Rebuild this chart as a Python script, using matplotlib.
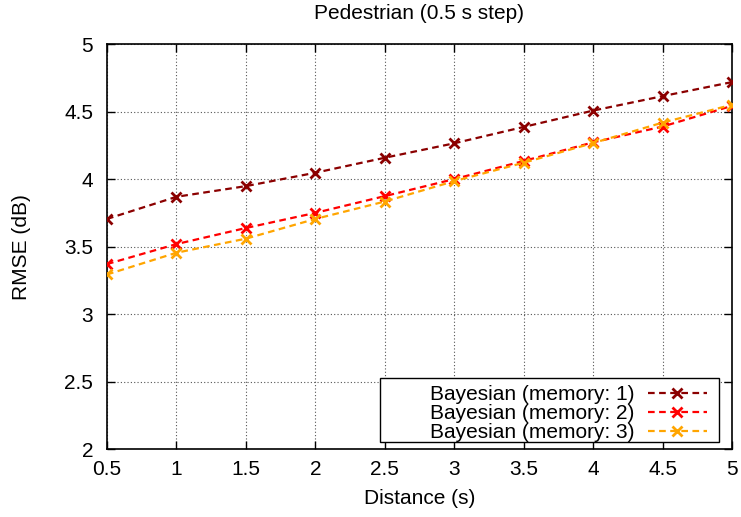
import matplotlib
matplotlib.use("Agg")
import matplotlib.pyplot as plt
from matplotlib.patches import Rectangle

plt.rcParams['font.family'] = ['Liberation Sans', 'DejaVu Sans']

distance = [0.5, 1.0, 1.5, 2.0, 2.5, 3.0, 3.5, 4.0, 4.5, 5.0]
mem1 = [3.705, 3.869, 3.948, 4.047, 4.158, 4.265, 4.386, 4.507, 4.614, 4.718]
mem2 = [3.371, 3.519, 3.638, 3.750, 3.874, 4.000, 4.134, 4.272, 4.389, 4.542]
mem3 = [3.294, 3.455, 3.559, 3.705, 3.834, 3.985, 4.121, 4.267, 4.418, 4.550]
labels = ["Bayesian (memory: 1)", "Bayesian (memory: 2)", "Bayesian (memory: 3)"]
colors = ["#8b0000", "#ff0000", "#ffa500"]

xticks = [0.5, 1, 1.5, 2, 2.5, 3, 3.5, 4, 4.5, 5]
xticklabels = ["0.5", "1", "1.5", "2", "2.5", "3", "3.5", "4", "4.5", "5"]
yticks = [2, 2.5, 3, 3.5, 4, 4.5, 5]
yticklabels = ["2", "2.5", "3", "3.5", "4", "4.5", "5"]

fs = 15
fig = plt.figure(figsize=(7.41, 5.17), dpi=100)
ax = fig.add_axes([107/741, 1-449.3/517, (732-107)/741, (449.3-44)/517])

for ys, lab, c in zip([mem1, mem2, mem3], labels, colors):
    ax.plot(distance, ys, linestyle=(0, (3, 2)), color=c, linewidth=1.6,
            marker='x', markersize=7, markeredgewidth=2, label=lab, zorder=3)

ax.set_xlim(0.5, 5)
ax.set_ylim(2, 5)
ax.set_xticks(xticks)
ax.set_xticklabels(xticklabels, fontsize=fs)
ax.set_yticks(yticks)
ax.set_yticklabels(yticklabels, fontsize=fs)
ax.tick_params(direction='in', top=True, right=True, length=6, width=1)
ax.tick_params(axis='x', pad=8)
ax.tick_params(axis='y', pad=10)
ax.grid(True, linestyle=(0, (1, 2)), color='#555555', linewidth=0.8)
for s in ax.spines.values():
    s.set_linewidth(1.2)

fig.text((107+732)/2/741, 1-19/517, "Pedestrian (0.5 s step)", fontsize=fs,
         ha='center', va='baseline')
ax.set_xlabel("Distance (s)", fontsize=fs, labelpad=7)
ax.set_ylabel("RMSE (dB)", fontsize=fs, labelpad=24)

# legend frame box
x0 = (380-107)/625; x1 = (719-107)/625
y0 = (449.3-442)/405.3; y1 = (449.3-378)/405.3
rect = Rectangle((x0, y0), x1-x0, y1-y0, transform=ax.transAxes,
                 facecolor='white', edgecolor='black', linewidth=1.0, zorder=4)
ax.add_patch(rect)

leg = ax.legend(loc='upper right', bbox_to_anchor=((707-107)/625, (449.3-385)/405.3),
                frameon=False, markerfirst=False, fontsize=fs, borderpad=0,
                borderaxespad=0, labelspacing=0.0, handlelength=2.85,
                handletextpad=0.62)
leg.set_zorder(5)

fig.savefig("out.png", dpi=100)
